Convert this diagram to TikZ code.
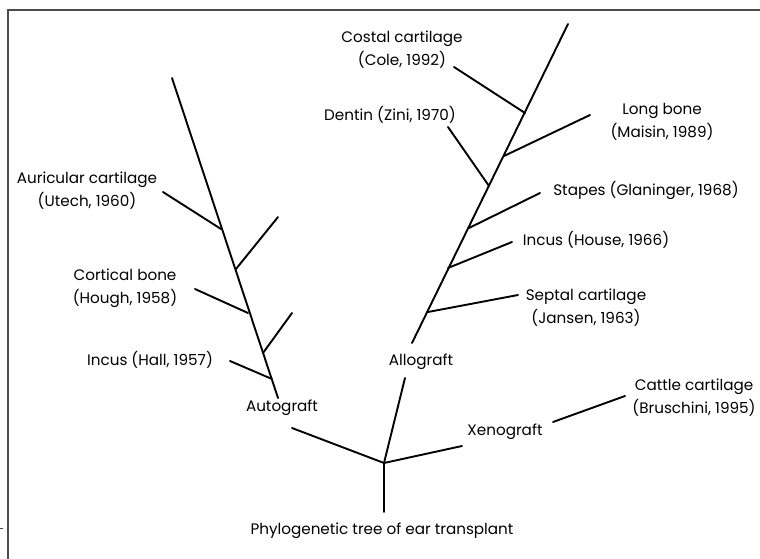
\documentclass[tikz,border=0pt]{standalone}
\usepackage{fontspec}
\setmainfont{Poppins}
\usepackage{tikz}
\usetikzlibrary{calc,positioning}
\definecolor{framegray}{rgb}{0.3,0.3,0.3}

\begin{document}
\begin{tikzpicture}[x=1pt,y=-1pt,
    branch/.style={line width=1.9pt, line cap=round},
    lbl/.style={inner sep=0pt, align=center, font=\fontsize{15.2}{23}\selectfont}]
        \useasboundingbox (0,0) rectangle (760,559);
        %Frame
        \draw[framegray, line width=1.4pt] (8,559) -- (8,10) -- (760,10);
        \draw[framegray, line width=0.8pt] (0,528) -- (3,528);
        %Root
        \coordinate (root) at (384,512);
        \coordinate (fork) at (384,463);
        \coordinate (autobase) at (292,428);
        \coordinate (allobase) at (405,378);
        \coordinate (xenoend) at (462,446);
        \coordinate (cattle1) at (553,422);
        \coordinate (cattle2) at (625,396);
        %Allograft trunk
        \coordinate (a0) at (412,343);
        \coordinate (a1) at (568,24);
        \coordinate (aS) at (428,312);   \coordinate (aSe) at (518,295);
        \coordinate (aI) at (448,268);   \coordinate (aIe) at (512,242);
        \coordinate (aSt) at (469,228);  \coordinate (aSte) at (540,193);
        \coordinate (aD) at (489,186);   \coordinate (aDe) at (448,127);
        \coordinate (aL) at (504,156);   \coordinate (aLe) at (590,115);
        \coordinate (aC) at (525,113);   \coordinate (aCe) at (454,67);
        %Autograft trunk
        \coordinate (b0) at (278,398);
        \coordinate (b1) at (172,78);
        \coordinate (bA) at (221,229);   \coordinate (bAe) at (163,192);
        \coordinate (bR1) at (236,269);  \coordinate (bR1e) at (278,217);
        \coordinate (bC) at (248,313);   \coordinate (bCe) at (195,289);
        \coordinate (bR2) at (263,353);  \coordinate (bR2e) at (292,313);
        \coordinate (bH) at (272,379);   \coordinate (bHe) at (230,361);

        %Draw branches
        \draw[branch] (root) -- (fork);
        \draw[branch] (fork) -- (autobase);
        \draw[branch] (fork) -- (allobase);
        \draw[branch] (fork) -- (xenoend);
        \draw[branch] (cattle1) -- (cattle2);
        \draw[branch] (a0) -- (a1);
        \draw[branch] (aS) -- (aSe);
        \draw[branch] (aI) -- (aIe);
        \draw[branch] (aSt) -- (aSte);
        \draw[branch] (aD) -- (aDe);
        \draw[branch] (aL) -- (aLe);
        \draw[branch] (aC) -- (aCe);
        \draw[branch] (b0) -- (b1);
        \draw[branch] (bA) -- (bAe);
        \draw[branch] (bR1) -- (bR1e);
        \draw[branch] (bC) -- (bCe);
        \draw[branch] (bR2) -- (bR2e);
        \draw[branch] (bH) -- (bHe);

        %Labels
        \node[lbl] (title) at (382,531) {Phylogenetic tree of ear transplant};
        \node[lbl] (auto) at (282,408) {Autograft};
        \node[lbl] (allo) at (421,362) {Allograft};
        \node[lbl] (xeno) at (505,432) {Xenograft};
        \node[lbl] (cattle) at (694,398) {Cattle cartilage\\(Bruschini, 1995)};
        \node[lbl] (costal) at (402,50) {Costal cartilage\\(Cole, 1992)};
        \node[lbl] (dentin) at (390,115) {Dentin (Zini, 1970)};
        \node[lbl] (long) at (662,122) {Long bone\\(Maisin, 1989)};
        \node[lbl] (stapes) at (646,190) {Stapes (Glaninger, 1968)};
        \node[lbl] (incush) at (596,240) {Incus (House, 1966)};
        \node[lbl] (septal) at (586,308) {Septal cartilage\\(Jansen, 1963)};
        \node[lbl] (auric) at (87,191) {Auricular cartilage\\(Utech, 1960)};
        \node[lbl] (cortic) at (125,288) {Cortical bone\\(Hough, 1958)};
        \node[lbl] (incusl) at (150,360) {Incus (Hall, 1957)};
      \end{tikzpicture}
\end{document}
